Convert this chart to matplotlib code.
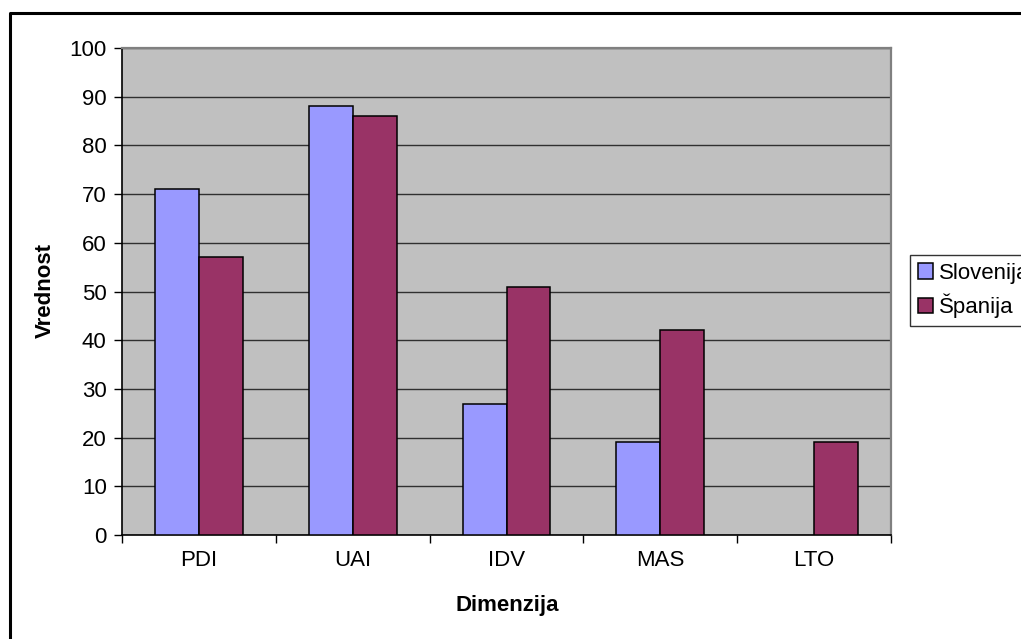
import numpy as np
import matplotlib
matplotlib.use("Agg")
import matplotlib.pyplot as plt
from matplotlib.lines import Line2D

plt.rcParams["font.family"] = ["Liberation Sans", "DejaVu Sans"]

# Hofstede dimensions
dimensions = ["PDI", "UAI", "IDV", "MAS", "LTO"]
slovenija = [71, 88, 27, 19, np.nan]   # no LTO score
spanija = [57, 86, 51, 42, 19]
yticks = [0, 10, 20, 30, 40, 50, 60, 70, 80, 90, 100]

fig = plt.figure(figsize=(10.21, 6.39), dpi=100)
ax = fig.add_axes([122 / 1021, 1 - 535 / 639, 769 / 1021, 487 / 639])
ax.set_facecolor("#C0C0C0")

x = np.arange(len(dimensions))
w = 0.286
ax.bar(x - w / 2, slovenija, w, color="#9999FF", edgecolor="black",
       linewidth=1.1, label="Slovenija", zorder=3)
ax.bar(x + w / 2, spanija, w, color="#993366", edgecolor="black",
       linewidth=1.1, label="Španija", zorder=3)

ax.set_xlim(-0.5, len(dimensions) - 0.5)
ax.set_ylim(0, 100)
ax.set_yticks(yticks)
ax.yaxis.grid(True, color="#303030", linewidth=1.0, zorder=1)
ax.set_axisbelow(True)

ax.set_xticks(x)
ax.set_xticklabels(dimensions)
ax.set_xticks(np.arange(-0.5, len(dimensions)), minor=True)
ax.tick_params(axis="x", which="major", length=0, pad=11, labelsize=16)
ax.tick_params(axis="x", which="minor", length=6, width=1, direction="out")
ax.tick_params(axis="y", length=6, width=1, direction="out", pad=5, labelsize=16)

for side in ("left", "bottom"):
    ax.spines[side].set_color("black")
    ax.spines[side].set_linewidth(1.2)
for side in ("top", "right"):
    ax.spines[side].set_color("#808080")
    ax.spines[side].set_linewidth(1.6)

fig.text(507 / 1021, 1 - 606 / 639, "Dimenzija", ha="center", va="center",
         fontsize=16, fontweight="bold")
fig.text(45 / 1021, 1 - 291 / 639, "Vrednost", ha="center", va="center",
         rotation=90, fontsize=16, fontweight="bold")

leg = fig.legend(loc="upper left", bbox_to_anchor=(910 / 1021, 1 - 255 / 639),
                 frameon=True, fancybox=False, fontsize=16, handlelength=0.7,
                 handleheight=0.7, handletextpad=0.25, borderpad=0.35,
                 labelspacing=0.45, borderaxespad=0)
leg.get_frame().set_edgecolor("black")
leg.get_frame().set_linewidth(1.0)

# chart border
fig.add_artist(Line2D([10 / 1021, 10 / 1021, 1.0], [0.0, 1 - 13 / 639, 1 - 13 / 639],
                      color="black", linewidth=2.2, transform=fig.transFigure))

fig.savefig("out.png", dpi=100)
